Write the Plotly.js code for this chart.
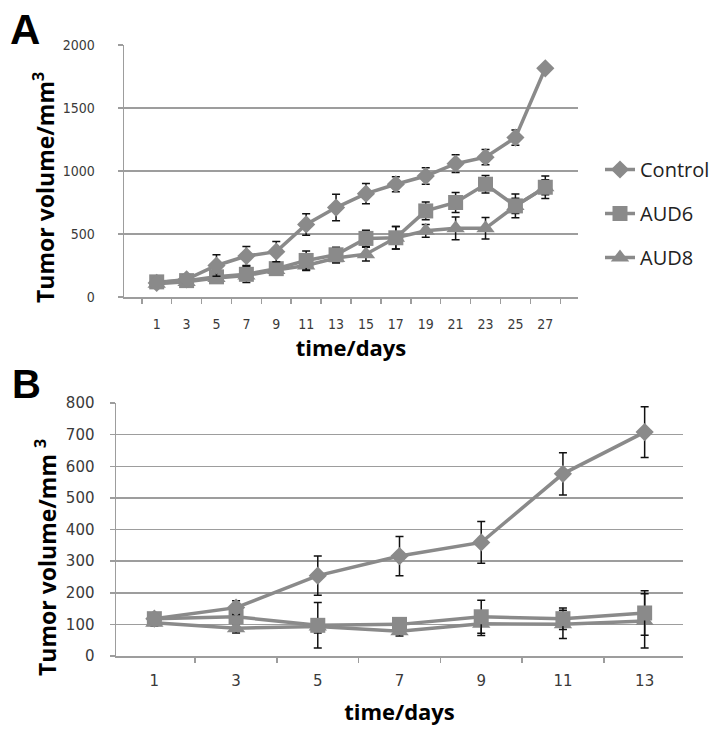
<!DOCTYPE html>
<html>
<head>
<meta charset="utf-8">
<script src="https://cdn.plot.ly/plotly-3.0.1.min.js"></script>
<style>html,body{margin:0;padding:0;background:#fff}#chart{width:727px;height:730px}</style>
</head>
<body>
<div id="chart"></div>
<script>
// ---- Panel A data ----
const daysA = ["1","3","5","7","9","11","13","15","17","19","21","23","25","27"];
const controlA = [112, 140, 250, 325, 360, 576, 710, 820, 895, 960, 1058, 1110, 1265, 1815];
const controlAErr = [15, 30, 85, 75, 80, 85, 105, 80, 60, 65, 70, 60, 60, 20];
const aud6A = [120, 130, 160, 180, 225, 290, 335, 465, 470, 683, 750, 895, 723, 871];
const aud6AErr = [20, 25, 30, 65, 30, 75, 60, 65, 90, 70, 80, 70, 95, 90];
const aud8A = [105, 120, 150, 170, 215, 250, 310, 340, 470, 525, 545, 545, 723, 871];
const aud8AErr = [15, 20, 25, 30, 30, 40, 40, 55, 90, 50, 90, 85, 60, 60];

// ---- Panel B data ----
const daysB = ["1","3","5","7","9","11","13"];
const controlB = [118, 153, 254, 316, 359, 576, 708];
const controlBErr = [10, 22, 62, 62, 66, 67, 80];
const aud6B = [118, 124, 97, 100, 124, 118, 136];
const aud6BErr = [10, 15, 72, 15, 52, 34, 70];
const aud8B = [105, 88, 93, 78, 102, 100, 111];
const aud8BErr = [10, 15, 20, 15, 37, 45, 86];

const seriesNames = ["Control", "AUD6", "AUD8"];
const yTitleA = "Tumor volume/mm<sup>3</sup>";
const yTitleB = "Tumor volume/mm <sup>3</sup>";
const xTitle = "time/days";

const symbols = ["diamond", "square", "triangle-up"];
const markerSizes = [14, 15, 16];
const gray = "#8a8a8a";

function mk(x, y, err, i, xa, ya, showleg) {
  return {
    type: "scatter", mode: "lines+markers",
    x: x, y: y, xaxis: xa, yaxis: ya,
    name: seriesNames[i], legendgroup: seriesNames[i], showlegend: showleg,
    legendrank: i + 1,
    line: {color: gray, width: 3.5},
    marker: {symbol: symbols[i], size: markerSizes[i], color: gray},
    error_y: {type: "data", array: err, visible: true, color: "#111", thickness: 1.5, width: 4}
  };
}

const data = [
  mk(daysA, aud8A, aud8AErr, 2, "x", "y", true),
  mk(daysA, aud6A, aud6AErr, 1, "x", "y", true),
  mk(daysA, controlA, controlAErr, 0, "x", "y", true),
  mk(daysB, aud8B, aud8BErr, 2, "x2", "y2", false),
  mk(daysB, aud6B, aud6BErr, 1, "x2", "y2", false),
  mk(daysB, controlB, controlBErr, 0, "x2", "y2", false)
];

const W = 727, H = 730;
const tickFontA = {family: "DejaVu Sans Condensed, DejaVu Sans", size: 14, color: "#3a3a3a"};
const tickFontB = {family: "DejaVu Sans", size: 15, color: "#3a3a3a"};
const titleFont = {family: "Open Sans", size: 22, color: "#000", weight: "bold"};
const axisCommon = {
  showline: true, linecolor: "#9d9d9d", linewidth: 1.5,
  ticks: "outside", ticklen: 5, tickcolor: "#9d9d9d", tickwidth: 1.5,
  zeroline: false, fixedrange: true
};

const layout = {
  width: W, height: H,
  margin: {l: 0, r: 0, t: 0, b: 0},
  paper_bgcolor: "#fff", plot_bgcolor: "#fff",
  showlegend: true,
  legend: {x: 600/W, xanchor: "left", y: 1 - 150/H, yanchor: "top",
           font: {family: "Open Sans", size: 20, color: "#222"},
           tracegroupgap: 15, bgcolor: "rgba(0,0,0,0)"},
  xaxis: Object.assign({}, axisCommon, {
    domain: [124/W, 578/W], anchor: "y", type: "category", tickson: "boundaries",
    showgrid: false, ticklabelstandoff: 14, tickfont: tickFontA,
    title: {text: xTitle, font: titleFont, standoff: 8}
  }),
  yaxis: Object.assign({}, axisCommon, {
    domain: [1 - 297/H, 1 - 45/H], anchor: "x", range: [0, 2000], dtick: 500,
    showgrid: true, gridcolor: "#9d9d9d", gridwidth: 1.5, ticklabelstandoff: 20, tickfont: tickFontA
  }),
  xaxis2: Object.assign({}, axisCommon, {
    domain: [116/W, 683/W], anchor: "y2", type: "category", tickson: "boundaries",
    showgrid: false, ticklabelstandoff: 10, tickfont: tickFontB,
    title: {text: xTitle, font: titleFont, standoff: 16}
  }),
  yaxis2: Object.assign({}, axisCommon, {
    domain: [1 - 656/H, 1 - 403/H], anchor: "x2", range: [0, 800], dtick: 100,
    showgrid: true, gridcolor: "#9d9d9d", gridwidth: 1.5, ticklabelstandoff: 12, tickfont: tickFontB
  }),
  annotations: [
    {text: "A", xref: "paper", yref: "paper", x: 8/W, y: 1 - 30/H, xanchor: "left", yanchor: "middle",
     showarrow: false, font: {family: "Liberation Sans", size: 42, color: "#000", weight: "bold"}},
    {text: "B", xref: "paper", yref: "paper", x: 10/W, y: 1 - 384/H, xanchor: "left", yanchor: "middle",
     showarrow: false, font: {family: "Liberation Sans", size: 40, color: "#000", weight: "bold"}},
    {text: yTitleA, xref: "paper", yref: "paper", x: 44/W, y: 1 - 188/H, xanchor: "center", yanchor: "middle",
     textangle: -90, showarrow: false, font: {family: "Open Sans", size: 23, color: "#000", weight: "bold"}},
    {text: yTitleB, xref: "paper", yref: "paper", x: 46/W, y: 1 - 558/H, xanchor: "center", yanchor: "middle",
     textangle: -90, showarrow: false, font: {family: "Open Sans", size: 23, color: "#000", weight: "bold"}}
  ]
};

Plotly.newPlot("chart", data, layout, {staticPlot: true, displayModeBar: false});
</script>
</body>
</html>
